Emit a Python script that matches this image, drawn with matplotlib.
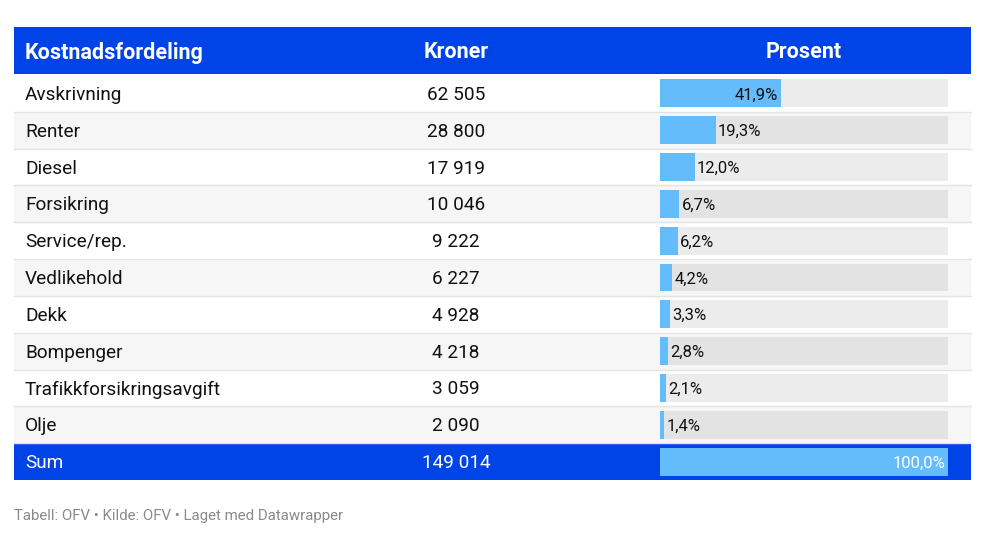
import matplotlib.pyplot as plt

plt.rcParams['font.family'] = ['Roboto', 'DejaVu Sans']

categories = ["Avskrivning", "Renter", "Diesel", "Forsikring", "Service/rep.",
              "Vedlikehold", "Dekk", "Bompenger", "Trafikkforsikringsavgift", "Olje"]
kroner = [62505, 28800, 17919, 10046, 9222, 6227, 4928, 4218, 3059, 2090]
prosent = [41.9, 19.3, 12.0, 6.7, 6.2, 4.2, 3.3, 2.8, 2.1, 1.4]
sum_label = "Sum"
sum_kroner = 149014
sum_prosent = 100.0
headers = ["Kostnadsfordeling", "Kroner", "Prosent"]
footer = "Tabell: OFV • Kilde: OFV • Laget med Datawrapper"

BLUE = "#0043e6"
BAR = "#64bcfb"
W, H = 985, 539

def fmt_kr(v):
    return f"{v:,}".replace(",", " ")

def fmt_pct(v):
    return f"{v:.1f}%".replace(".", ",")

fig = plt.figure(figsize=(W / 100, H / 100), dpi=100)
ax = fig.add_axes([0, 0, 1, 1])
ax.set_xlim(0, W)
ax.set_ylim(H, 0)
ax.axis("off")

left, right = 14, 971
head_top, head_bot = 27, 74
row_h = (480 - 75) / 11
col_kr = 456
bar_l, bar_r = 660, 948

# header
ax.add_patch(plt.Rectangle((left, head_top), right - left, head_bot - head_top, color=BLUE, lw=0))
hy = (head_top + head_bot) / 2 + 2
ax.text(25, hy, headers[0], color="white", fontsize=15.5, fontweight="bold", va="center", ha="left")
ax.text(col_kr, hy, headers[1], color="white", fontsize=15.5, fontweight="bold", va="center", ha="center")
ax.text((bar_l + bar_r) / 2, hy, headers[2], color="white", fontsize=15.5, fontweight="bold", va="center", ha="center")

n = len(categories)
labels = categories + [sum_label]
values = kroner + [sum_kroner]
pcts = prosent + [sum_prosent]

for i in range(n + 1):
    top = 75 + i * row_h
    is_sum = i == n
    if is_sum:
        bg = BLUE
    else:
        bg = "white" if i % 2 == 0 else "#f6f6f6"
    ax.add_patch(plt.Rectangle((left, top), right - left, row_h, color=bg, lw=0))
    if not is_sum:
        ax.plot([left, right], [top + row_h, top + row_h], color="#e3e3e3", lw=1)
    tc = "white" if is_sum else "#111111"
    cy = top + row_h / 2 + 1.5
    ax.text(25, cy, labels[i], color=tc, fontsize=13.7, va="center", ha="left")
    ax.text(col_kr, cy, fmt_kr(values[i]), color=tc, fontsize=13.7, va="center", ha="center")

# bar column
bax = fig.add_axes([bar_l / W, 1 - 480 / H, (bar_r - bar_l) / W, (480 - 75) / H])
bax.set_xlim(0, 100)
bax.set_ylim(n + 0.5, -0.5)
bax.axis("off")
rows = list(range(n + 1))
bax.barh(rows[:n], [100] * n, height=0.76, color="black", alpha=0.075, lw=0)
bax.barh(rows, pcts, height=0.76, color=BAR, lw=0)
for i, p in enumerate(pcts):
    txt = fmt_pct(p)
    if i == n:
        bax.text(p - 0.8, i + 0.04, txt, color="white", fontsize=12, va="center", ha="right")
    elif p > 30:
        bax.text(p - 0.8, i + 0.04, txt, color="#111111", fontsize=12, va="center", ha="right")
    else:
        bax.text(p + 0.8, i + 0.04, txt, color="#111111", fontsize=12, va="center", ha="left")

ax.text(14, 516, footer, color="#8a8a8a", fontsize=10.8, va="center", ha="left")

fig.savefig("out.png", dpi=100)
